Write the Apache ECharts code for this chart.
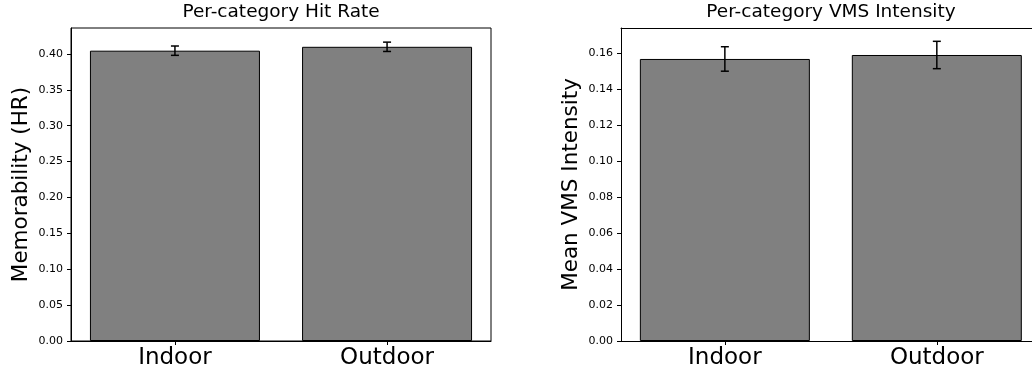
<!DOCTYPE html>
<html>
<head>
<meta charset="utf-8">
<script src="https://cdn.jsdelivr.net/npm/echarts@6/dist/echarts.min.js"></script>
<style>html,body{margin:0;padding:0;background:#fff;}#c{width:1032px;height:374px;}</style>
</head>
<body>
<div id="c"></div>
<script>
const categories = ['Indoor', 'Outdoor'];
const hitRate = [0.4046, 0.4100];
const hitRateErr = [0.0065, 0.0065];
const vms = [0.1567, 0.1589];
const vmsErr = [0.0068, 0.0076];
const hrTicks = [0, 0.05, 0.10, 0.15, 0.20, 0.25, 0.30, 0.35, 0.40];
const vmsTicks = [0, 0.02, 0.04, 0.06, 0.08, 0.10, 0.12, 0.14, 0.16];
const catPos = [0, 1];

const FONT = 'DejaVu Sans';
const chart = echarts.init(document.getElementById('c'), null, {renderer: 'canvas'});

function errRender(params, api) {
  const x = api.value(0), v = api.value(1), e = api.value(2);
  const lo = api.coord([x, v - e]);
  const hi = api.coord([x, v + e]);
  const cap = 4;
  const style = {stroke: '#000', lineWidth: 1.5};
  return {
    type: 'group',
    children: [
      {type: 'line', shape: {x1: lo[0], y1: lo[1], x2: hi[0], y2: hi[1]}, style},
      {type: 'line', shape: {x1: lo[0] - cap, y1: lo[1], x2: lo[0] + cap, y2: lo[1]}, style},
      {type: 'line', shape: {x1: hi[0] - cap, y1: hi[1], x2: hi[0] + cap, y2: hi[1]}, style}
    ]
  };
}

function xAx(i, max) {
  return {
    type: 'value', gridIndex: i, min: -0.49, max: max,
    axisLine: {show: true, onZero: false, lineStyle: {color: '#000', width: 1}},
    axisTick: {show: true, length: 4, lineStyle: {color: '#000'}, customValues: catPos},
    axisLabel: {fontFamily: FONT, fontSize: 23, color: '#000', margin: 6,
      customValues: catPos, formatter: v => categories[Math.round(v)]},
    splitLine: {show: false}
  };
}
function yAx(i, name, max, ticks) {
  return {
    type: 'value', gridIndex: i, min: 0, max: max,
    name: name, nameLocation: 'middle', nameGap: 39,
    nameTextStyle: {fontFamily: FONT, fontSize: 21.5, color: '#000'},
    axisLine: {show: true, onZero: false, lineStyle: {color: '#000', width: 1}},
    axisTick: {show: true, length: 4, lineStyle: {color: '#000'}, customValues: ticks},
    axisLabel: {fontFamily: FONT, fontSize: 11, color: '#000', margin: 8,
      customValues: ticks, formatter: v => v.toFixed(2)},
    splitLine: {show: false}
  };
}

chart.setOption({
  animation: false,
  title: [
    {text: 'Per-category Hit Rate', left: 281, top: 3, textAlign: 'center', padding: 0,
      textStyle: {fontFamily: FONT, fontSize: 18.5, fontWeight: 'normal', color: '#000'}},
    {text: 'Per-category VMS Intensity', left: 831, top: 3, textAlign: 'center', padding: 0,
      textStyle: {fontFamily: FONT, fontSize: 18.5, fontWeight: 'normal', color: '#000'}}
  ],
  grid: [
    {left: 71, top: 28, width: 420, height: 313, show: true, borderColor: '#000', borderWidth: 1},
    {left: 621, top: 28, width: 411, height: 313, show: false}
  ],
  xAxis: [
    xAx(0, 1.49),
    xAx(1, 1.449),
    {type: 'value', gridIndex: 1, min: -0.49, max: 1.449, position: 'top',
      axisLine: {show: true, onZero: false, lineStyle: {color: '#000', width: 1}},
      axisTick: {show: false}, axisLabel: {show: false}, splitLine: {show: false}}
  ],
  yAxis: [
    yAx(0, 'Memorability (HR)', 0.4362, hrTicks),
    yAx(1, 'Mean VMS Intensity', 0.1739, vmsTicks)
  ],
  series: [
    {type: 'bar', xAxisIndex: 0, yAxisIndex: 0, barWidth: 170,
      data: catPos.map((p, i) => [p, hitRate[i]]),
      itemStyle: {color: '#808080', borderColor: '#000', borderWidth: 1}},
    {type: 'bar', xAxisIndex: 1, yAxisIndex: 1, barWidth: 170,
      data: catPos.map((p, i) => [p, vms[i]]),
      itemStyle: {color: '#808080', borderColor: '#000', borderWidth: 1}},
    {type: 'custom', xAxisIndex: 0, yAxisIndex: 0, renderItem: errRender, z: 10,
      data: catPos.map((p, i) => [p, hitRate[i], hitRateErr[i]])},
    {type: 'custom', xAxisIndex: 1, yAxisIndex: 1, renderItem: errRender, z: 10,
      data: catPos.map((p, i) => [p, vms[i], vmsErr[i]])}
  ]
});
</script>
</body>
</html>
